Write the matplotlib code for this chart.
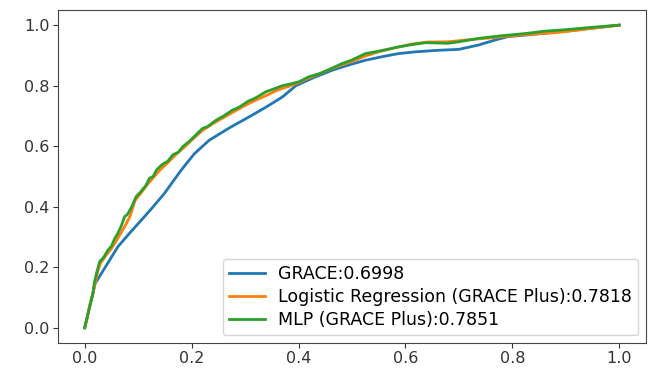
import matplotlib
matplotlib.use("Agg")
import matplotlib.pyplot as plt

# GRACE (blue)
grace_fpr = [0, 0.005, 0.012, 0.019, 0.04, 0.062, 0.085, 0.106, 0.128, 0.149, 0.18, 0.205,
             0.233, 0.27, 0.3075, 0.34, 0.37, 0.395, 0.43, 0.463, 0.495, 0.525, 0.56, 0.587,
             0.62, 0.662, 0.70, 0.736, 0.77, 0.792, 0.83, 0.854, 0.90, 0.95, 1.0]
grace_tpr = [0, 0.04, 0.09, 0.145, 0.205, 0.268, 0.315, 0.356, 0.40, 0.444, 0.52, 0.575,
             0.620, 0.66, 0.697, 0.73, 0.763, 0.800, 0.828, 0.851, 0.869, 0.884, 0.897, 0.906,
             0.912, 0.917, 0.920, 0.934, 0.952, 0.962, 0.968, 0.972, 0.980, 0.99, 1.0]

# Logistic Regression (orange)
lr_fpr = [0, 0.005, 0.01, 0.015, 0.02, 0.025, 0.03, 0.04, 0.05, 0.06, 0.07, 0.078, 0.085,
          0.094, 0.105, 0.118, 0.13, 0.14, 0.155, 0.17, 0.185, 0.20, 0.22, 0.24, 0.26, 0.28,
          0.30, 0.32, 0.34, 0.36, 0.38, 0.40, 0.42, 0.44, 0.46, 0.48, 0.50, 0.525, 0.55, 0.58,
          0.61, 0.64, 0.68, 0.72, 0.76, 0.80, 0.85, 0.88, 0.92, 0.96, 1.0]
lr_tpr = [0, 0.035, 0.08, 0.11, 0.15, 0.19, 0.215, 0.24, 0.262, 0.29, 0.32, 0.345, 0.37,
          0.42, 0.445, 0.475, 0.50, 0.52, 0.545, 0.572, 0.595, 0.62, 0.652, 0.675, 0.695, 0.715,
          0.735, 0.752, 0.768, 0.785, 0.797, 0.81, 0.826, 0.84, 0.855, 0.868, 0.88, 0.898, 0.912,
          0.925, 0.937, 0.944, 0.945, 0.952, 0.958, 0.965, 0.972, 0.975, 0.983, 0.992, 1.0]

# MLP (green)
mlp_fpr = [0, 0.004, 0.008, 0.012, 0.0155, 0.018, 0.022, 0.028, 0.035, 0.0435, 0.05, 0.056,
           0.062, 0.068, 0.0746, 0.08, 0.088, 0.096, 0.105, 0.115, 0.121, 0.128, 0.134, 0.145,
           0.155, 0.165, 0.175, 0.183, 0.195, 0.2205, 0.23, 0.245, 0.26, 0.276, 0.29, 0.305,
           0.32, 0.339, 0.355, 0.37, 0.388, 0.401, 0.42, 0.44, 0.463, 0.48, 0.50, 0.525, 0.55,
           0.587, 0.61, 0.637, 0.68, 0.70, 0.736, 0.78, 0.823, 0.86, 0.90, 0.95, 1.0]
mlp_tpr = [0, 0.03, 0.06, 0.09, 0.114, 0.15, 0.18, 0.219, 0.232, 0.257, 0.27, 0.295,
           0.312, 0.335, 0.367, 0.375, 0.40, 0.433, 0.45, 0.472, 0.494, 0.50, 0.521, 0.54,
           0.55, 0.572, 0.58, 0.598, 0.615, 0.659, 0.665, 0.685, 0.70, 0.719, 0.73, 0.748,
           0.76, 0.780, 0.79, 0.80, 0.807, 0.813, 0.83, 0.84, 0.858, 0.872, 0.885, 0.906, 0.914,
           0.928, 0.935, 0.942, 0.940, 0.945, 0.956, 0.965, 0.972, 0.980, 0.985, 0.993, 1.0]

labels = ["GRACE:0.6998", "Logistic Regression (GRACE Plus):0.7818", "MLP (GRACE Plus):0.7851"]
xticks = [0.0, 0.2, 0.4, 0.6, 0.8, 1.0]
yticks = [0.0, 0.2, 0.4, 0.6, 0.8, 1.0]

fig = plt.figure(figsize=(6.51, 3.70), dpi=100)
ax = fig.add_axes([58/651, 1-343/370, (646-58)/651, (343-10)/370])
ax.plot(grace_fpr, grace_tpr, color="#1f77b4", lw=2.0, label=labels[0])
ax.plot(lr_fpr, lr_tpr, color="#ff7f0e", lw=2.0, label=labels[1])
ax.plot(mlp_fpr, mlp_tpr, color="#2ca02c", lw=2.0, label=labels[2])
ax.set_xticks(xticks)
ax.set_yticks(yticks)
ax.tick_params(labelsize=11.5, colors="#333333", length=3.5, pad=2.5)
for s in ax.spines.values():
    s.set_color("#444444")
ax.legend(loc="lower right", fontsize=12.5, handlelength=2.1, handletextpad=0.75,
          labelspacing=0.3, borderaxespad=0.45, borderpad=0.35)
fig.savefig("out.png", dpi=100)
